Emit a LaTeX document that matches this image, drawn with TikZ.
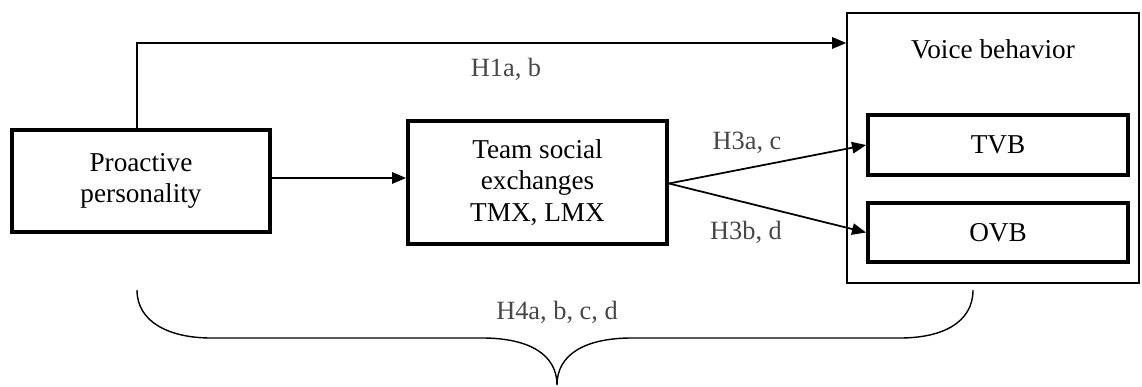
\documentclass[tikz,border=0pt]{standalone}
\usepackage{fontspec}
\setmainfont{Liberation Serif}
\usetikzlibrary{arrows.meta, positioning, calc}

\begin{document}
\begin{tikzpicture}[
      box/.style={draw, line width=2.2pt, align=center, inner sep=0pt,
                  font=\fontsize{15.5}{18}\selectfont},
      hyp/.style={font=\fontsize{15}{18}\selectfont, text=black!72},
      arr/.style={-{Triangle[length=8pt, width=6.5pt]}, line width=1pt},
   ]
      \useasboundingbox (0,0) rectangle (22.84,-7.74);

      % predictor
      \node[box, minimum width=5.16cm, minimum height=2.04cm] (pp) at (2.82,-3.62)
         {Proactive\\personality};

      % mediator
      \node[box, minimum width=5.18cm, minimum height=2.46cm] (tse) at (10.75,-3.65)
         {Team social\\exchanges\\TMX, LMX};

      % outcome frame
      \node[draw, line width=0.9pt, minimum width=5.84cm, minimum height=5.4cm] (vb)
         at (19.86,-2.96) {};
      \node[font=\fontsize{15.5}{18}\selectfont, anchor=north] (vbl)
         at ([yshift=-0.42cm]vb.north) {Voice behavior};

      % TVB / OVB
      \node[box, minimum width=5.2cm, minimum height=1.2cm] (tvb) at (19.96,-2.9) {TVB};
      \node[box, minimum width=5.2cm, minimum height=1.18cm] (ovb) at (19.96,-4.65) {OVB};

      % direct path
      \coordinate (bend) at (2.74,-0.86);
      \draw[arr] (pp.north -| bend) -- (bend) -- (bend -| vb.west);
      \node[hyp] (h1) at (10.12,-1.38) {H1a, b};

      % mediated paths
      \draw[arr] ([yshift=0.06cm]pp.east) -- ([yshift=0.06cm]pp.east -| tse.west);
      \draw[arr] ([yshift=-0.02cm]tse.east) -- (tvb.west);
      \draw[arr] ([yshift=-0.02cm]tse.east) -- (ovb.west);
      \node[hyp] (h3a) at (14.94,-2.86) {H3a, c};
      \node[hyp] (h3b) at (14.92,-4.64) {H3b, d};

      % brace under the model
      \coordinate (tip) at (11.14,-7.7);
      \draw[line width=0.8pt]
         (2.74,-5.8) .. controls (2.74,-6.45) and (3.4,-6.76) .. (4.22,-6.76)
         -- (9.64,-6.76) .. controls (10.6,-6.76) and (11.14,-7.1) .. (tip)
         .. controls (11.14,-7.1) and (11.68,-6.76) .. (12.64,-6.76)
         -- (18.0,-6.76) .. controls (18.85,-6.76) and (19.46,-6.45) .. (19.46,-5.8);
      \node[hyp] (h4) at (11.14,-6.24) {H4a, b, c, d};
   \end{tikzpicture}
\end{document}
